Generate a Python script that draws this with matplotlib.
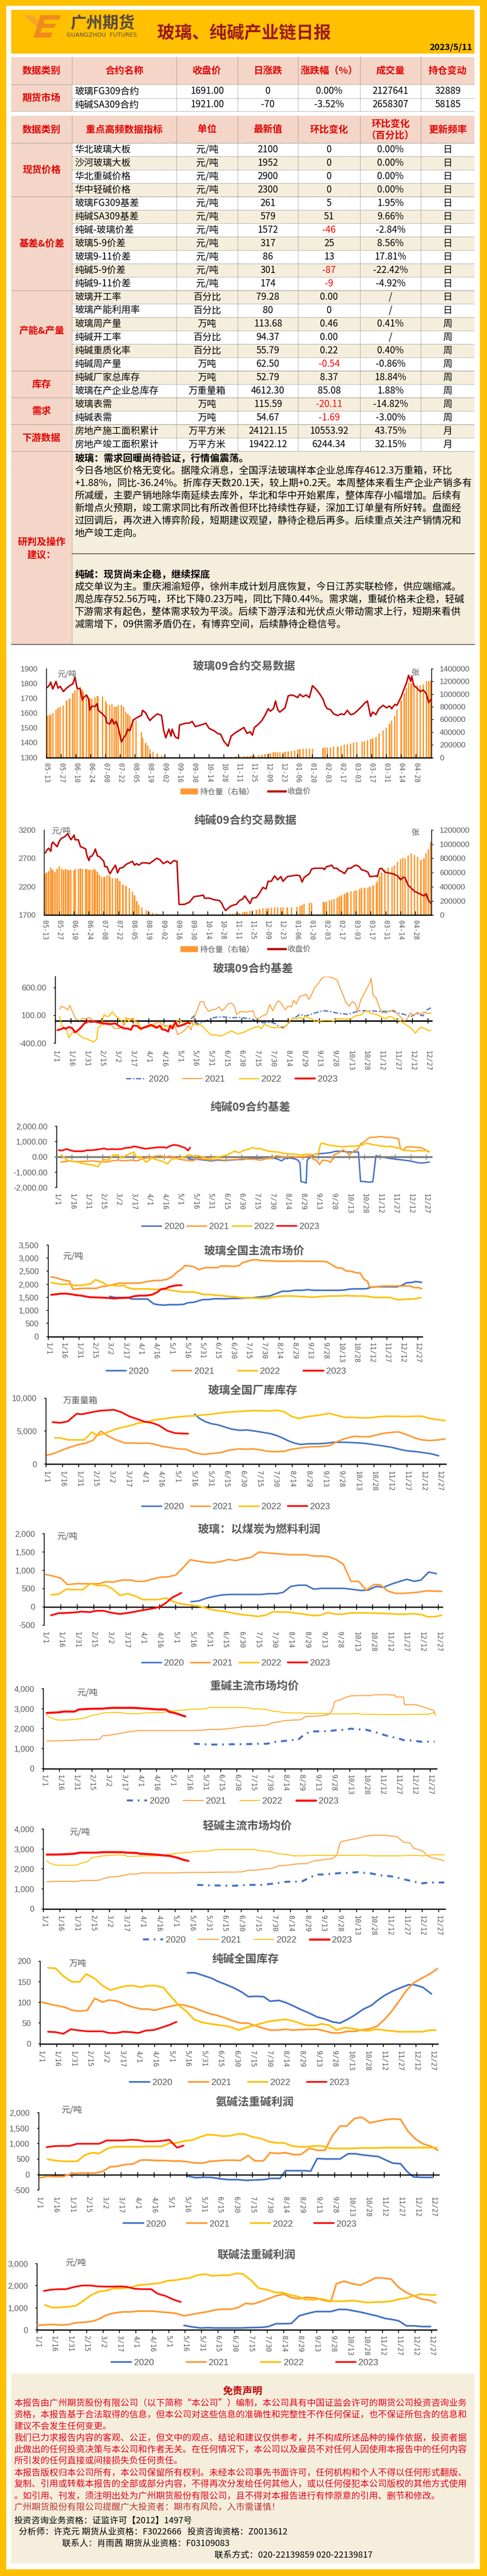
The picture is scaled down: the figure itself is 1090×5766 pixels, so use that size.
import numpy as np
import pandas as pd
import matplotlib
matplotlib.use('Agg')
import matplotlib.pyplot as plt
from matplotlib.patches import Rectangle, Polygon, Patch
from matplotlib.lines import Line2D
import matplotlib.transforms as mtrans

plt.rcParams['font.family'] = ['Noto Sans CJK SC', 'DejaVu Sans']
plt.rcParams['axes.unicode_minus'] = False

nan = np.nan
W, H = 1090, 5766
GRAY = '#595959'
NUM = ['Liberation Sans', 'DejaVu Sans']
MONO = ['DejaVu Sans Mono', 'DejaVu Sans']
PINK = '#F4D6C8'
BEIGE = '#F6EEDC'
RED = '#E00000'
YELLOW = '#FFC000'
BAR = '#FF9933'
DARKRED = '#C00000'
YEARS = ['2020', '2021', '2022', '2023']
YEAR_COLORS = ['#4472C4', '#FF9933', '#FFC000', '#FF0000']

# ---------------- table data ----------------
fut_names = ['玻璃FG309合约', '纯碱SA309合约']
fut_close = [1691.00, 1921.00]
fut_chg = [0, -70]
fut_pct = [0.00, -3.52]
fut_vol = [2127641, 2658307]
fut_oi = [32889, 58185]

ind_names = ['华北玻璃大板', '沙河玻璃大板', '华北重碱价格', '华中轻碱价格', '玻璃FG309基差', '纯碱SA309基差',
             '纯碱-玻璃价差', '玻璃5-9价差', '玻璃9-11价差', '纯碱5-9价差', '纯碱9-11价差', '玻璃开工率',
             '玻璃产能利用率', '玻璃周产量', '纯碱开工率', '纯碱重质化率', '纯碱周产量', '纯碱厂家总库存',
             '玻璃在产企业总库存', '玻璃表需', '纯碱表需', '房地产施工面积累计', '房地产竣工面积累计']
ind_units = ['元/吨'] * 11 + ['百分比', '百分比', '万吨', '百分比', '百分比', '万吨', '万吨', '万重量箱',
                              '万吨', '万吨', '万平方米', '万平方米']
ind_latest = ['2100', '1952', '2900', '2300', '261', '579', '1572', '317', '86', '301', '174', '79.28', '80',
              '113.68', '94.37', '55.79', '62.50', '52.79', '4612.30', '115.59', '54.67', '24121.15', '19422.12']
ind_chg = ['0', '0', '0', '0', '5', '51', '-46', '25', '13', '-87', '-9', '0.00', '0', '0.46', '0.00', '0.22',
           '-0.54', '8.37', '85.08', '-20.11', '-1.69', '10553.92', '6244.34']
ind_pct = ['0.00%', '0.00%', '0.00%', '0.00%', '1.95%', '9.66%', '-2.84%', '8.56%', '17.81%', '-22.42%', '-4.92%',
           '/', '/', '0.41%', '/', '0.40%', '-0.86%', '18.84%', '1.88%', '-14.82%', '-3.00%', '43.75%', '32.15%']
ind_freq = ['日'] * 13 + ['周'] * 8 + ['月'] * 2
groups = [('现货价格', 4), ('基差&价差', 7), ('产能&产量', 6), ('库存', 2), ('需求', 2), ('下游数据', 2)]

glass_text = ['玻璃：需求回暖尚待验证，行情偏震荡。',
              '今日各地区价格无变化。据隆众消息，全国浮法玻璃样本企业总库存4612.3万重箱，环比',
              '+1.88%，同比-36.24%。折库存天数20.1天，较上期+0.2天。本周整体来看生产企业产销多有',
              '所减缓，主要产销地除华南延续去库外，华北和华中开始累库，整体库存小幅增加。后续有',
              '新增点火预期，竣工需求同比有所改善但环比持续性存疑，深加工订单量有所好转。盘面经',
              '过回调后，再次进入博弈阶段，短期建议观望，静待企稳后再多。后续重点关注产销情况和',
              '地产竣工走向。']
soda_text = ['纯碱：现货尚未企稳，继续探底',
             '成交单议为主。重庆湘渝短停，徐州丰成计划月底恢复，今日江苏实联检修，供应端缩减。',
             '周总库存52.56万吨，环比下降0.23万吨，同比下降0.44%。需求端，重碱价格未企稳，轻碱',
             '下游需求有起色，整体需求较为平淡。后续下游浮法和光伏点火带动需求上行，短期来看供',
             '减需增下，09供需矛盾仍在，有博弈空间，后续静待企稳信号。']

# ---------------- chart data ----------------
# (day since 2022-05-13, close, open interest in 10k)
fg_rows = [(1,1775,66),(3,1792,67),(4,1810,68),(6,1763,70),(9,1815,75),(11,1769,78),(13,1781,80),(16,1746,82),(19,1769,90),(22,1786,93),
           (25,1798,101),(27,1844,106),(29,1769,110),(32,1763,112),(34,1688,107),(35,1705,104),(38,1723,99),(40,1694,94),(41,1619,93),(43,1648,93),
           (46,1644,95),(48,1665,97),(49,1619,97),(53,1595,96),(56,1572,89),(57,1537,86),(60,1526,83),(62,1561,84),(64,1526,80),(66,1544,80),
           (68,1503,83),(71,1404,83),(73,1433,80),(75,1451,72),(77,1492,69),(79,1480,66),(82,1550,61),(85,1567,58),(90,1585,40),(91,1619,31),
           (94,1602,23),(96,1572,19),(98,1550,13),(101,1572,9),(105,1595,6),(109,1584,3),(111,1485,1),(113,1433,0.5),(116,1492,0.5),(118,1445,0.3),
           (119,1492,0.3),(122,1439,0.3),(125,1428,0.3),(126,1520,0.3),(129,1526,0.3),(132,1532,0.3),(135,1532,0.3),(138,1544,0.3),(141,1509,nan),(144,1515,nan),
           (149,1526,nan),(151,1532,0.3),(154,1497,0.3),(159,1480,0.3),(162,1463,0.4),(165,1457,0.4),(168,1410,0.5),(172,1376,0.5),(175,1445,1),(179,1468,1.5),
           (183,1485,1.8),(187,1503,2),(190,1463,2),(193,1474,2.5),(195,1451,2.5),(197,1503,3),(201,1526,3.5),(204,1550,4),(207,1585,5),(210,1630,6),
           (212,1613,6.5),(215,1630,8),(217,1682,8),(219,1624,8),(221,1607,8),(224,1624,8),(226,1636,9),(229,1717,9.5),(232,1723,10),(235,1717,11),
           (238,1705,12),(240,1728,13),(243,1711,13.5),(246,1723,13.5),(249,1705,14),(252,1786,14),(256,1757,nan),(259,1728,nan),(262,1694,15),(264,1653,15.5),
           (266,1630,16),(269,1624,16),(272,1595,17),(276,1584,17.5),(279,1595,19),(282,1590,20),(285,1619,21),(288,1590,22),(291,1595,23.5),(294,1613,24),
           (299,1648,25),(301,1665,26),(304,1682,27),(307,1578,29),(309,1607,30),(312,1590,32),(315,1630,38),(319,1653,43),(322,1636,47),(325,1648,53),
           (327,1630,58),(330,1659,66),(332,1653,76),(336,1711,90),(339,1769,101),(341,1804,110),(343,1856,118),(345,1815,118),(346,1850,117),(348,1786,115),
           (351,1769,114),(354,1746,114),(357,1757,115),(360,1728,120),(362,1671,121),(364,1691,121)]

sa_rows = [(1,2799,58),(2,2839,60),(4,2880,62),(6,2826,67),(7,2961,64),(8,2988,63),(10,2948,61),(12,2907,65),(14,3002,69),(16,3056,66),
           (18,3070,64),(20,3097,65),(22,3138,64),(23,3097,63),(25,3029,64),(28,3111,63),(29,3029,65),(32,3029,65),(34,2907,66),(36,2894,65),
           (39,2866,65),(40,2758,65),(42,2663,64),(43,2731,64),(45,2745,64),(47,2812,65),(48,2866,63),(50,2745,61),(52,2731,57),(54,2690,54),
           (56,2649,54),(57,2555,54),(59,2555,56),(61,2460,57),(62,2433,53),(64,2501,52),(67,2582,52),(69,2446,52),(71,2527,48),(74,2541,43),
           (77,2595,41),(80,2622,38),(83,2649,33),(85,2582,28),(87,2609,20),(89,2582,15),(92,2622,11),(96,2622,7),(99,2609,5),(102,2649,3.5),
           (106,2704,2),(109,2677,1.5),(112,2609,1),(116,2649,0.5),(119,2609,0.4),(122,2663,0.3),(125,2649,0.3),(127,1890,0.3),(129,1890,0.3),(132,1890,0.3),
           (137,1931,0.3),(141,2026,nan),(146,2040,nan),(150,2053,0.5),(151,1999,0.5),(156,1999,0.6),(160,1972,0.7),(165,1958,1),(167,1917,1.2),(169,1836,1.5),
           (171,1782,1.5),(175,1850,2),(178,1877,2.3),(181,1890,2.6),(184,1958,3),(187,1985,4),(189,2040,4.5),(191,1985,5),(194,1904,6),(196,1999,6.5),
           (200,2013,7.5),(203,2094,8.5),(206,2189,9.8),(209,2162,10),(211,2297,10),(214,2297,10.5),(217,2392,10.8),(220,2324,10.8),(223,2379,10.8),(225,2297,10.8),
           (229,2379,10.8),(233,2392,11.3),(238,2406,11.9),(241,2392,13),(243,2284,14),(245,2365,16),(250,2433,17.4),(252,2514,17.4),(255,2527,nan),(260,2527,nan),
           (263,2527,18.4),(264,2501,18.5),(266,2555,19.5),(269,2568,21),(271,2582,22),(273,2527,23),(276,2527,24.5),(278,2487,26),(280,2473,28),(283,2433,30),
           (285,2487,31.5),(286,2527,32),(289,2527,33.5),(292,2568,34.3),(294,2582,35),(297,2555,37),(299,2501,38),(302,2487,38.6),(305,2460,39),(307,2379,40),
           (310,2384,42),(313,2392,45),(314,2379,48),(316,2514,55),(318,2527,60),(321,2460,64),(324,2446,67),(328,2433,68),(330,2419,70),(333,2392,75),
           (336,2324,79),(338,2365,81),(340,2365,80),(343,2229,84),(346,2175,87),(349,2121,85),(352,2094,82),(355,2067,78),(358,2040,80),(360,2080,88),
           (362,1972,93),(364,1917,103)]

# seasonal series: (day of year, value)
gb20 = [(131,38),(134,92),(137,-57),(141,-30),(145,-3),(151,51),(157,73),(163,73),(170,57),(178,65),(184,51),(190,38),(194,-3),(200,-30),
        (204,-30),(208,-24),(212,-43),(217,-111),(221,-111),(224,-70),(229,51),(233,78),(236,119),(242,92),(247,119),(251,146),(259,186),
        (265,173),(271,146),(277,132),(283,119),(289,159),(295,186),(301,186),(307,181),(313,173),(319,173),(325,186),(331,146),(337,119),
        (343,78),(349,132),(355,92),(359,200),(363,240)]
gb21 = [(4,213),(6,268),(10,227),(12,200),(14,281),(16,186),(20,24),(24,11),(26,51),(29,38),(33,65),(37,-16),(41,-30),(46,-70),(52,-16),
        (56,-124),(61,-138),(65,-111),(68,51),(72,38),(76,11),(79,-16),(83,-138),(86,-97),(91,-70),(95,-57),(100,-16),(104,-70),(109,-97),
        (113,-84),(116,-111),(118,-246),(121,-219),(125,-165),(129,-84),(131,-165),(134,51),(137,200),(140,349),(143,349),(145,254),(148,173),
        (151,200),(155,213),(158,254),(161,186),(164,240),(167,308),(170,322),(173,268),(175,119),(179,173),(184,159),(188,173),(191,186),
        (193,65),(196,38),(200,92),(204,119),(207,295),(210,186),(214,335),(216,362),(219,295),(222,200),(225,268),(228,254),(230,375),
        (233,308),(236,443),(239,457),(242,484),(245,389),(248,497),(251,619),(254,673),(257,760),(260,800),(265,795),(269,770),(272,740),
        (277,511),(281,322),(284,268),(287,349),(290,308),(292,159),(295,375),(298,484),(301,592),(304,700),(305,773),(307,457),(310,416),
        (312,295),(315,159),(319,146),(323,173),(327,200),(330,132),(334,65),(337,-3),(340,38),(343,146),(346,105),(350,159),(353,119),
        (356,159),(360,132),(363,146)]
gb22 = [(4,84),(6,-84),(8,-111),(11,-165),(13,-300),(16,-219),(19,-178),(22,-232),(26,-300),(31,-327),(34,-354),(37,-376),(40,-327),
        (41,-124),(44,-84),(47,119),(50,78),(52,92),(55,165),(58,92),(61,51),(64,-3),(67,-70),(68,65),(71,-8),(74,51),(77,-16),(80,-30),
        (83,-165),(86,-111),(89,-111),(92,-97),(95,-70),(98,-97),(101,-84),(104,-111),(107,-97),(110,-84),(115,-70),(118,19),(122,-16),
        (126,-43),(130,-16),(133,-57),(136,-70),(140,-70),(143,-111),(147,-192),(151,-259),(154,-246),(157,-259),(160,-273),(163,-246),
        (166,-219),(170,-178),(173,-205),(176,-232),(179,-219),(182,-205),(185,-178),(188,-151),(191,-124),(196,-97),(199,-138),(202,-57),
        (205,-84),(208,-111),(212,-124),(217,-111),(220,-138),(223,-84),(227,11),(230,51),(233,38),(236,65),(239,38),(242,92),(245,51),
        (248,38),(251,-16),(254,-3),(259,11),(263,11),(266,11),(269,-3),(272,46),(277,38),(281,32),(286,51),(290,92),(295,105),(298,159),
        (301,186),(304,146),(307,132),(310,119),(313,92),(316,65),(319,38),(322,78),(325,78),(328,24),(332,11),(336,-30),(340,-84),
        (344,-138),(348,-219),(350,-165),(353,-111),(355,-124),(358,-151),(361,-178),(363,-165)]
gb23 = [(2,-165),(5,-151),(8,-124),(10,-138),(13,-111),(16,-124),(19,-205),(22,-165),(25,-111),(28,-43),(31,-8),(35,-16),(38,-8),(43,-30),
        (47,-43),(52,-57),(58,-43),(62,-97),(66,-132),(70,-138),(73,-159),(75,-84),(79,-89),(82,-138),(85,-124),(89,-97),(92,-70),(95,-97),
        (98,-124),(101,-84),(103,-151),(106,-159),(109,-192),(111,-84),(113,-138),(116,-16),(118,-97),(121,-84),(125,-57),(128,-30),(130,-43)]

sb20 = [(128,-116),(132,-164),(138,-164),(144,-213),(150,-261),(157,-213),(163,-241),(169,-213),(175,-184),(181,-164),(187,-116),(193,-68),
        (199,-87),(205,-19),(211,-68),(216,-164),(219,-261),(222,-116),(226,-68),(231,-116),(235,-213),(237,-406),(238,-1613),(241,-1662),
        (243,-1710),(244,-213),(247,-19),(250,126),(253,203),(259,222),(266,271),(272,367),(278,367),(284,319),(290,319),(294,319),
        (296,-1613),(300,-1613),(305,-1662),(308,-1613),(311,77),(314,29),(320,-48),(326,-116),(332,-164),(338,-213),(344,-261),(350,-357),
        (355,-406),(359,-377),(363,-338)]
sb21 = [(4,-338),(8,-309),(13,-261),(17,-309),(23,-309),(29,-280),(35,-261),(41,-309),(48,-338),(54,-261),(60,-213),(66,-261),(72,-213),
        (78,-261),(84,-116),(90,-48),(96,48),(101,77),(105,-19),(110,48),(114,-19),(120,-164),(126,-213),(132,-261),(138,-116),(144,-164),
        (150,-213),(157,-164),(163,-213),(169,-184),(175,-164),(181,-116),(187,-145),(193,-164),(199,-213),(205,-116),(210,-68),(214,77),
        (219,29),(223,-19),(229,29),(235,-19),(241,10),(247,77),(250,-164),(253,-213),(256,-502),(259,-213),(264,-261),(267,-357),(270,126),
        (275,271),(279,464),(282,319),(285,126),(290,415),(293,464),(296,850),(300,995),(303,1188),(306,1285),(311,1285),(316,1333),
        (320,1285),(325,1285),(329,1236),(333,1188),(335,512),(338,464),(341,657),(346,657),(350,628),(355,609),(359,464),(362,319)]
sb22 = [(4,126),(7,-19),(10,-213),(13,-261),(17,-309),(22,-357),(25,-435),(29,-473),(35,-531),(40,-647),(43,-357),(46,-164),(49,-213),
        (52,-116),(55,126),(58,126),(61,29),(64,-68),(67,77),(72,222),(75,319),(78,-19),(81,29),(84,-116),(87,-357),(90,-213),(93,-68),
        (96,-164),(99,-213),(102,-261),(105,-357),(108,-454),(111,-213),(114,-116),(117,-116),(120,-48),(125,29),(129,145),(134,29),(138,77),
        (143,-19),(147,-116),(152,-68),(157,-19),(161,48),(166,126),(170,271),(173,367),(178,271),(182,415),(187,512),(191,609),(194,531),
        (197,560),(202,464),(207,367),(211,338),(216,319),(220,242),(226,203),(232,174),(238,126),(244,174),(250,145),(255,222),(257,850),
        (259,898),(263,802),(267,753),(272,705),(278,657),(282,686),(287,705),(291,705),(296,753),(300,850),(303,879),(308,802),(312,753),
        (317,705),(322,657),(325,705),(329,628),(334,560),(338,415),(343,415),(347,367),(352,415),(356,396),(361,415),(363,338)]
sb23 = [(2,435),(5,415),(10,512),(13,435),(17,367),(22,367),(26,367),(29,435),(34,435),(38,464),(43,512),(46,560),(49,493),(54,512),
        (58,493),(63,512),(67,589),(72,609),(75,686),(78,657),(82,589),(87,531),(90,560),(94,589),(99,628),(104,628),(107,589),(110,705),
        (114,782),(118,753),(122,657),(125,589),(128,415),(130,609)]

gp20 = [(60,1537),(65,1494),(71,1494),(77,1494),(82,1433),(86,1433),(92,1433),(97,1433),(100,1335),(103,1250),(107,1220),(113,1201),
        (119,1220),(126,1220),(132,1232),(136,1293),(142,1311),(147,1372),(151,1415),(156,1415),(162,1445),(168,1445),(174,1445),(180,1457),
        (186,1457),(192,1476),(198,1476),(204,1506),(210,1531),(216,1555),(221,1628),(225,1689),(228,1732),(234,1732),(240,1768),(247,1768),
        (253,1793),(259,1768),(265,1768),(271,1768),(277,1768),(283,1768),(289,1781),(293,1811),(298,1823),(304,1823),(310,1829),(315,1891),
        (321,1903),(328,1903),(334,1903),(340,1903),(345,1963),(349,2055),(354,2067),(358,2104),(364,2073)]
gp21 = [(3,2281),(8,2250),(12,2189),(17,2146),(21,2116),(24,1811),(29,1829),(35,1842),(41,1842),(47,1842),(51,1903),(57,1933),(64,1994),
        (70,2043),(76,2043),(82,2043),(88,2043),(92,2067),(98,2116),(104,2146),(110,2146),(116,2189),(121,2299),(126,2482),(130,2573),
        (133,2714),(138,2695),(142,2665),(147,2555),(150,2604),(154,2634),(160,2634),(165,2634),(168,2695),(174,2695),(180,2683),(186,2714),
        (189,2817),(194,2878),(198,2921),(203,2939),(207,2909),(213,2897),(219,2891),(225,2878),(231,2878),(237,2878),(244,2891),(250,2878),
        (256,2878),(262,2878),(268,2878),(272,2848),(277,2726),(281,2634),(286,2616),(290,2512),(295,2494),(299,2451),(304,2421),(308,2177),
        (311,2116),(313,1903),(316,1884),(322,1915),(328,1933),(334,1933),(340,1933),(346,1933),(352,1933),(357,1872),(361,1872),(364,1823)]
gp22 = [(3,2067),(8,2024),(14,1994),(20,2006),(26,1951),(32,1963),(38,1994),(42,2024),(46,2177),(50,2116),(54,2055),(57,1963),(62,1963),
        (68,1933),(74,1963),(77,1872),(82,1823),(89,1823),(98,1823),(104,1799),(110,1811),(116,1793),(123,1750),(129,1707),(135,1707),
        (141,1707),(147,1659),(151,1610),(157,1610),(163,1579),(169,1567),(175,1537),(181,1525),(188,1488),(194,1488),(200,1476),(206,1464),
        (213,1464),(219,1506),(225,1537),(231,1549),(237,1549),(244,1537),(250,1525),(256,1506),(262,1518),(268,1537),(274,1549),(280,1549),
        (286,1555),(290,1567),(295,1555),(301,1549),(307,1549),(312,1537),(316,1506),(321,1494),(327,1494),(333,1494),(336,1457),(340,1415),
        (346,1415),(352,1433),(358,1445),(361,1476),(363,1488)]
gp23 = [(3,1598),(8,1616),(12,1640),(18,1640),(23,1616),(27,1585),(32,1567),(36,1537),(41,1506),(47,1494),(53,1488),(59,1476),(64,1457),
        (68,1470),(74,1476),(79,1488),(83,1537),(89,1567),(95,1567),(101,1598),(106,1689),(110,1811),(115,1842),(118,1903),(123,1945),
        (127,1963),(130,1957)]

gi20 = [(136,7559),(140,6962),(145,6483),(151,6124),(157,5957),(163,5646),(170,5287),(177,5120),(184,5167),(191,5000),(198,4809),
        (205,4617),(211,4330),(216,3971),(222,3493),(228,3134),(233,2967),(239,3062),(248,3086),(255,3134),(263,3302),(272,3302),(280,3254),
        (288,3182),(295,3062),(302,2895),(309,2728),(316,2536),(323,2249),(330,2010),(339,1867),(346,1699),(353,1532),(359,1250)]
gi21 = [(1,1340),(8,1651),(15,2130),(23,2608),(30,2967),(36,3134),(43,3613),(50,5000),(56,4330),(63,3732),(72,3182),(80,3182),(87,3134),
        (93,3182),(100,2967),(107,2656),(114,2488),(121,2297),(128,2249),(136,1699),(143,1460),(151,1579),(160,1747),(168,2130),(177,2297),
        (182,2249),(189,2297),(197,2130),(202,1938),(209,1867),(218,1938),(225,2249),(234,2464),(242,2608),(251,2656),(259,2775),(266,3373),
        (273,3852),(282,4211),(289,4139),(296,4139),(303,4450),(310,4689),(319,4856),(323,4856),(330,4450),(337,3971),(344,3660),(351,3565),
        (359,3660),(365,3804)]
gi22 = [(8,3971),(13,3971),(20,3660),(29,3660),(35,3660),(42,4856),(47,4330),(53,4617),(60,5048),(64,5335),(72,5646),(77,5813),(84,6196),
        (91,6363),(100,6722),(109,6890),(117,7081),(127,7248),(136,7320),(143,7440),(154,7607),(161,7799),(171,7918),(182,8038),(191,8110),
        (199,8086),(204,8038),(211,8158),(218,7918),(225,7200),(231,6914),(239,7200),(249,7392),(259,7679),(266,7392),(273,7081),(280,7081),
        (288,7009),(296,7009),(303,7153),(310,7248),(319,7248),(329,7200),(336,7248),(344,7248),(350,6962),(356,6770),(365,6603)]
gi23 = [(6,6363),(13,6244),(20,6483),(28,7631),(33,7559),(40,7799),(49,8086),(56,8158),(62,8229),(69,7870),(76,7248),(83,6842),
        (90,6435),(97,6244),(103,5885),(111,5048),(118,4689),(126,4617),(130,4612)]

gc20 = [(134,144),(141,166),(148,240),(155,288),(162,327),(169,341),(176,341),(184,341),(191,341),(198,341),(205,362),(212,362),(218,397),
        (225,559),(232,594),(239,594),(246,485),(253,507),(260,507),(267,507),(274,507),(281,480),(289,450),(296,463),(303,559),(310,537),
        (317,624),(324,690),(331,755),(338,699),(344,734),(351,952),(358,908)]
gc21 = [(1,887),(8,843),(15,786),(21,611),(29,633),(36,633),(43,633),(50,633),(56,690),(63,677),(71,734),(79,734),(84,699),(91,699),
        (98,755),(106,812),(113,821),(120,873),(127,1083),(133,1288),(141,1245),(148,1214),(154,1205),(161,1236),(168,1293),(175,1266),
        (182,1314),(189,1354),(196,1498),(203,1476),(211,1454),(218,1441),(225,1424),(232,1424),(239,1424),(246,1389),(253,1389),(260,1367),
        (266,1301),(273,1170),(280,699),(287,699),(294,459),(301,611),(307,603),(314,428),(321,371),(328,371),(335,384),(342,406),(350,441),
        (357,428),(363,428)]
gc22 = [(6,332),(13,349),(20,485),(28,472),(35,472),(42,638),(49,581),(56,590),(62,493),(69,319),(76,362),(83,297),(90,201),(97,201),
        (104,201),(111,245),(118,144),(125,79),(132,57),(140,26),(147,-22),(154,-83),(161,-109),(168,-140),(175,-183),(182,-214),(189,-236),
        (195,-258),(202,-227),(209,-127),(216,-140),(223,-140),(230,-170),(237,-197),(245,-236),(252,-227),(259,-153),(266,-197),(273,-197),
        (280,-162),(287,-162),(294,-162),(301,-170),(308,-175),(315,-183),(323,-197),(330,-197),(337,-183),(344,-205),(350,-271),(357,-262),
        (363,-227)]
gc23 = [(6,-227),(13,-170),(20,-162),(28,-148),(34,-127),(42,-140),(47,-105),(54,-105),(62,-162),(69,-192),(76,-162),(83,-127),(90,-87),
        (97,-52),(104,-9),(110,87),(117,262),(121,319),(125,384)]

hs20 = [(140,1240),(147,1224),(156,1200),(165,1200),(174,1216),(182,1216),(191,1224),(200,1240),(208,1240),(214,1320),(223,1376),
        (231,1424),(237,1440),(243,1720),(249,1856),(257,1864),(266,1880),(275,1936),(281,1936),(286,2000),(292,1960),(299,1960),(308,1840),
        (315,1720),(321,1616),(330,1520),(335,1424),(344,1400),(351,1344),(359,1344),(364,1344)]
hs21 = [(3,1376),(12,1392),(20,1400),(29,1416),(36,1440),(45,1440),(52,1456),(55,1640),(61,1664),(67,1720),(72,1760),(77,1824),(82,1856),
        (88,1904),(95,1904),(104,1904),(113,1904),(121,1904),(130,1904),(139,1904),(147,1920),(156,1960),(165,1960),(172,2000),(179,2040),
        (187,2104),(194,2120),(201,2144),(208,2176),(213,2296),(220,2344),(224,2400),(231,2424),(239,2440),(244,2600),(252,2624),(260,2656),
        (266,2720),(269,2960),(271,3360),(276,3440),(282,3584),(286,3640),(295,3656),(304,3656),(307,3696),(318,3704),(327,3680),(328,3584),
        (335,3584),(336,3200),(341,3200),(347,3200),(350,3136),(354,3080),(359,2976),(363,2920),(365,2680)]
hs22 = [(3,2680),(6,2560),(12,2440),(17,2424),(23,2440),(30,2464),(35,2496),(40,2560),(46,2680),(52,2720),(55,2784),(61,2800),(67,2816),
        (72,2800),(77,2760),(84,2744),(90,2760),(95,2784),(104,2800),(110,2800),(116,2880),(121,2904),(127,2920),(133,2944),(139,2976),
        (146,2984),(152,3000),(153,3056),(162,3056),(174,3056),(185,3056),(191,3040),(195,3000),(202,2984),(208,2960),(213,2880),(218,2856),
        (224,2800),(231,2784),(240,2784),(246,2760),(254,2760),(263,2752),(269,2736),(278,2736),(286,2736),(292,2760),(296,2720),(304,2720),
        (315,2704),(327,2704),(335,2704),(347,2720),(359,2720),(363,2800),(365,2720)]
hs23 = [(3,2784),(9,2800),(14,2816),(19,2856),(25,2856),(29,2856),(33,2960),(38,2976),(43,2992),(49,3000),(55,3000),(59,3024),(64,3040),
        (71,3040),(78,3040),(85,3040),(91,3016),(97,3000),(103,2976),(108,2960),(114,2960),(117,2840),(121,2800),(126,2720),(130,2640),
        (132,2616)]

ls20 = [(140,1200),(148,1184),(156,1176),(164,1160),(175,1160),(185,1200),(192,1200),(199,1200),(209,1264),(222,1360),(229,1360),
        (235,1360),(242,1560),(249,1720),(256,1720),(264,1760),(271,1800),(277,1800),(286,1840),(293,1800),(298,1776),(307,1680),(315,1640),
        (320,1600),(328,1480),(335,1400),(341,1320),(345,1280),(351,1320),(359,1320),(365,1320)]
ls21 = [(3,1360),(11,1376),(23,1376),(31,1376),(35,1424),(45,1424),(51,1440),(55,1520),(59,1584),(66,1616),(74,1680),(78,1744),(85,1744),
        (89,1800),(99,1800),(110,1800),(122,1800),(129,1824),(139,1824),(150,1824),(161,1840),(173,1840),(181,1856),(187,1936),(195,1944),
        (202,2000),(209,2040),(214,2160),(221,2176),(226,2224),(232,2256),(239,2264),(246,2400),(252,2440),(257,2480),(263,2520),(267,2680),
        (270,3280),(271,3360),(277,3440),(283,3504),(288,3560),(293,3640),(300,3680),(307,3696),(312,3680),(318,3640),(322,3616),(325,3480),
        (328,3344),(334,3296),(337,3040),(342,2960),(346,2880),(349,2680),(354,2560),(361,2480),(365,2400)]
ls22 = [(3,2400),(6,2280),(11,2200),(17,2184),(25,2184),(30,2200),(34,2280),(40,2360),(44,2560),(48,2600),(54,2656),(61,2680),(68,2704),
        (75,2680),(76,2624),(85,2640),(93,2656),(102,2656),(109,2680),(116,2736),(124,2800),(133,2840),(141,2880),(150,2896),(156,2960),
        (164,2976),(175,2976),(187,2976),(192,2976),(197,2920),(204,2880),(209,2840),(214,2760),(222,2720),(228,2656),(235,2656),(246,2680),
        (257,2680),(269,2680),(280,2680),(288,2680),(294,2704),(298,2656),(311,2656),(322,2656),(331,2672),(339,2680),(345,2656),(354,2704),
        (365,2704)]
ls23 = [(3,2720),(11,2720),(20,2736),(28,2760),(33,2816),(41,2816),(48,2816),(54,2840),(62,2840),(71,2840),(76,2816),(85,2800),(88,2760),
        (95,2744),(102,2720),(109,2680),(115,2656),(119,2600),(123,2544),(127,2464),(132,2400)]

si20 = [(135,172),(142,172),(149,166),(157,159),(164,150),(171,143),(178,135),(185,125),(191,114),(198,115),(205,114),(211,103),(219,105),
        (225,100),(232,92),(239,83),(247,74),(254,65),(261,60),(268,53),(275,50),(282,59),(289,70),(296,83),(304,93),(309,104),(316,117),
        (323,127),(331,136),(338,143),(343,143),(351,137),(359,121)]
si21 = [(1,101),(7,97),(14,93),(23,88),(29,81),(36,79),(43,81),(50,110),(57,101),(63,106),(71,103),(78,95),(86,88),(93,84),(99,84),
        (105,81),(113,87),(120,91),(128,95),(133,93),(141,87),(148,80),(155,73),(162,69),(170,62),(177,55),(184,50),(190,50),(197,44),
        (204,38),(211,33),(218,33),(225,35),(232,33),(239,34),(247,35),(254,35),(261,31),(268,26),(275,26),(282,30),(289,30),(296,34),
        (302,36),(309,42),(316,59),(322,77),(329,102),(336,129),(343,148),(351,160),(358,170),(365,183)]
si22 = [(7,184),(14,183),(21,164),(29,150),(36,150),(42,169),(50,158),(57,141),(64,130),(71,135),(78,140),(85,141),(92,137),(99,141),
        (105,141),(113,136),(120,114),(128,91),(134,79),(141,59),(148,52),(156,48),(165,45),(174,41),(182,33),(189,39),(197,45),(204,50),
        (210,54),(218,57),(225,59),(232,55),(239,49),(245,44),(252,44),(258,48),(265,45),(272,33),(279,39),(286,37),(294,33),(301,31),
        (308,35),(315,33),(322,31),(329,29),(336,29),(343,29),(351,29),(358,33),(363,33)]
si23 = [(7,29),(14,28),(21,24),(28,35),(36,32),(43,30),(50,30),(57,30),(63,26),(70,26),(76,29),(83,28),(90,26),(97,32),(104,33),
        (111,39),(118,45),(125,53)]

ap20 = [(136,-49),(143,-97),(151,-83),(157,-87),(166,-136),(173,-160),(181,-160),(190,-184),(197,-170),(205,-160),(212,-121),(220,-121),
        (225,127),(229,127),(237,127),(244,127),(248,111),(254,521),(261,506),(268,506),(275,506),(282,673),(289,673),(296,633),(303,608),
        (310,582),(316,481),(323,370),(330,354),(336,101),(342,-76),(352,-87),(359,-87)]
ap21 = [(1,-101),(8,-51),(15,-66),(22,-61),(29,25),(36,51),(43,51),(51,51),(58,101),(65,253),(71,268),(79,329),(86,344),(93,471),(100,471),
        (107,456),(114,456),(122,440),(129,440),(136,415),(141,380),(149,370),(156,430),(163,446),(170,466),(177,466),(184,456),(191,618),
        (197,446),(205,446),(211,709),(218,683),(225,709),(232,648),(239,648),(247,851),(254,785),(261,785),(268,1266),(275,1570),(281,1570),
        (288,1813),(295,1848),(302,1671),(309,1721),(316,1772),(323,1797),(330,1782),(337,1392),(344,1139),(351,987),(358,911),(364,785)]
ap22 = [(8,496),(15,456),(22,430),(28,430),(35,430),(42,633),(49,709),(55,683),(63,851),(70,901),(77,901),(84,901),(91,901),(97,911),
        (105,911),(112,911),(119,1013),(126,1023),(133,1089),(140,1114),(147,1215),(154,1291),(161,1276),(168,1240),(175,1256),(182,1316),
        (188,1306),(195,1215),(203,1164),(210,1063),(217,1023),(224,1023),(231,921),(238,901),(245,901),(252,927),(259,921),(266,846),
        (273,846),(281,846),(288,851),(295,861),(302,861),(309,861),(316,871),(323,871),(330,871),(337,871),(344,871),(352,871),(359,871),
        (363,871)]
ap23 = [(7,886),(14,921),(21,927),(28,927),(35,997),(42,997),(49,997),(55,997),(62,1104),(70,1104),(77,1104),(84,1124),(91,1114),
        (97,1073),(105,1073),(112,1089),(119,1124),(126,871),(132,937)]

jp20 = [(134,201),(141,136),(149,84),(156,97),(163,84),(170,84),(177,84),(185,84),(192,97),(199,104),(206,116),(211,149),(218,278),
        (225,278),(232,291),(239,634),(246,731),(254,828),(261,828),(268,828),(275,925),(282,925),(289,860),(296,796),(303,712),(310,634),
        (317,524),(325,459),(330,408),(337,181),(344,181),(351,149),(359,149)]
jp21 = [(0,201),(7,226),(14,246),(22,214),(29,246),(36,330),(43,343),(51,395),(56,485),(63,666),(70,763),(78,815),(85,815),(92,848),
        (99,848),(106,848),(113,809),(120,783),(127,744),(134,634),(141,699),(148,763),(156,828),(163,912),(170,938),(177,938),(183,1003),
        (190,1197),(197,1171),(204,1281),(211,1410),(218,1540),(225,1624),(232,1456),(239,1410),(246,1475),(254,1443),(261,1346),(268,1281),
        (273,2090),(280,2206),(288,2090),(295,2025),(302,2187),(309,2361),(316,2349),(323,2303),(330,1928),(337,1689),(344,1540),(351,1391),
        (358,1346),(364,1216)]
jp22 = [(7,1132),(14,1003),(21,1022),(28,1042),(35,1087),(42,1313),(49,1572),(56,1734),(63,1779),(70,1883),(78,1883),(85,1928),(92,2025),
        (99,2057),(106,2090),(112,2122),(119,2232),(126,2252),(133,2316),(139,2349),(146,2478),(153,2530),(160,2446),(167,2478),(175,2478),
        (182,2562),(188,2530),(195,2252),(202,1896),(210,1818),(217,1702),(224,1689),(231,1585),(238,1508),(245,1378),(252,1365),(259,1410),
        (266,1326),(273,1300),(280,1300),(288,1326),(295,1281),(302,1236),(309,1262),(316,1262),(323,1300),(330,1391),(337,1443),(344,1540),
        (350,1624),(357,1585),(364,1585)]
jp23 = [(6,1766),(12,1818),(19,1844),(26,1844),(34,1947),(41,2012),(48,2012),(55,1973),(62,1960),(69,1960),(76,1973),(82,1947),(89,1863),
        (97,1844),(104,1844),(110,1637),(117,1540),(124,1378),(131,1262)]

disclaimer = ['本报告由广州期货股份有限公司（以下简称“本公司”）编制，本公司具有中国证监会许可的期货公司投资咨询业务',
              '资格，本报告基于合法取得的信息，但本公司对这些信息的准确性和完整性不作任何保证，也不保证所包含的信息和',
              '建议不会发生任何变更。',
              '我们已力求报告内容的客观、公正，但文中的观点、结论和建议仅供参考，并不构成所述品种的操作依据，投资者据',
              '此做出的任何投资决策与本公司和作者无关。在任何情况下，本公司以及雇员不对任何人因使用本报告中的任何内容',
              '所引发的任何直接或间接损失负任何责任。',
              '本报告版权归本公司所有，本公司保留所有权利。未经本公司事先书面许可，任何机构和个人不得以任何形式翻版、',
              '复制、引用或转载本报告的全部或部分内容，不得再次分发给任何其他人，或以任何侵犯本公司版权的其他方式使用',
              '。如引用、刊发，须注明出处为广州期货股份有限公司，且不得对本报告进行有悖原意的引用、删节和修改。']
reminder = '广州期货股份有限公司提醒广大投资者：期市有风险，入市需谨慎！'
contacts = ['投资咨询业务资格：证监许可【2012】1497号',
            '分析师：许克元 期货从业资格：F3022666   投资咨询资格：Z0013612',
            '联系人：肖雨茜 期货从业资格：F03109083',
            '联系方式：020-22139859 020-22139817']

# ---------------- helpers ----------------
fig = plt.figure(figsize=(W / 100, H / 100), dpi=100)
fig.patch.set_facecolor(YELLOW)


def box(x0, y0, x1, y1, color, z=-5):
    fig.add_artist(Rectangle((x0 / W, 1 - y1 / H), (x1 - x0) / W, (y1 - y0) / H, transform=fig.transFigure,
                             facecolor=color, edgecolor='none', zorder=z))


def seg(x0, y0, x1, y1, dotted=True, lw=0.8, color='#404040'):
    ls = (0, (1, 1.6)) if dotted else '-'
    fig.add_artist(Line2D([x0 / W, x1 / W], [1 - y0 / H, 1 - y1 / H], transform=fig.transFigure,
                          color=color, lw=lw, ls=ls, zorder=-1))


def put(x, y, s, **kw):
    kw.setdefault('ha', 'center')
    kw.setdefault('va', 'center')
    return fig.text(x / W, 1 - y / H, s, **kw)


def xlabels(ax, ticks, labels, offset=14, size=11):
    tr = mtrans.offset_copy(mtrans.blended_transform_factory(ax.transData, ax.transAxes),
                            fig=fig, y=-offset, units='dots')
    for t, lab in zip(ticks, labels):
        ax.text(t, 0, lab, transform=tr, rotation=-90, ha='center', va='top', fontsize=size,
                family=MONO, color=GRAY)


# ---------------- frame & header ----------------
box(14, 12.5, 1074, 5751, 'white', z=-10)
box(25, 22, 1062, 120, YELLOW)
fig.add_artist(Polygon([(55 / W, 1 - 34 / H), (73 / W, 1 - 34 / H), (97 / W, 1 - 58 / H), (90 / W, 1 - 68 / H)],
                       closed=True, transform=fig.transFigure, facecolor='#F7A52C', edgecolor='none'))
for pts in ([(91, 34), (137, 34), (132, 44), (87, 44)], [(86, 53), (126, 53), (121, 62), (82, 62)],
            [(79, 73), (118, 73), (113, 84), (75, 84)], [(91, 34), (103, 34), (87, 84), (75, 84)]):
    fig.add_artist(Polygon([(x / W, 1 - y / H) for x, y in pts], closed=True, transform=fig.transFigure,
                           facecolor='#F08A1C', edgecolor='none'))
put(229, 52, '广州期货', fontsize=26, weight='bold', color='#5A4A3C')
put(228, 78, 'GUANGZHOU  FUTURES', fontsize=9.5, color='#5A4A3C', family=['DejaVu Sans'])
put(546, 75, '玻璃、纯碱产业链日报', fontsize=28, weight='bold', color='#9C1A1A')
put(1057, 107, '2023/5/11', ha='right', fontsize=14, weight='bold', color='black')

# ---------------- table 1 ----------------
cols = [25, 161, 395, 532, 667, 806, 942, 1062]
mids = [(a + b) / 2 for a, b in zip(cols[:-1], cols[1:])]
box(25, 128, 1062, 189, PINK)
box(25, 189, 161, 249, PINK)
for c, t in zip(mids, ['数据类别', '合约名称', '收盘价', '日涨跌', '涨跌幅（%）', '成交量', '持仓变动']):
    put(c, 158.5, t, color=RED, fontsize=15.5, weight='bold')
put(mids[0], 219, '期货市场', color=RED, fontsize=15.5, weight='bold')
for i, yc in enumerate([204.5, 234.5]):
    put(167, yc, fut_names[i], ha='left', fontsize=15)
    put(mids[2], yc, f'{fut_close[i]:.2f}', fontsize=15)
    put(mids[3], yc, f'{fut_chg[i]}', fontsize=15)
    put(mids[4], yc, f'{fut_pct[i]:.2f}%', fontsize=15)
    put(mids[5], yc, f'{fut_vol[i]}', fontsize=15)
    put(mids[6], yc, f'{fut_oi[i]}', fontsize=15)
for x in cols[1:-1]:
    seg(x, 128, x, 249)
seg(25, 189, 1062, 189)
seg(161, 220, 1062, 220)
seg(25, 249, 1062, 249)

# ---------------- table 2 ----------------
box(25, 259, 1062, 320, PINK)
box(25, 320, 161, 1010, PINK)
heads = ['数据类别', '重点高频数据指标', '单位', '最新值', '环比变化', '环比变化\n（百分比）', '更新频率']
for c, t in zip(mids, heads):
    put(c, 290, t, color=RED, fontsize=15.5, weight='bold', linespacing=1.3)
for i in range(len(ind_names)):
    y0 = 320 + 30 * i
    if i % 2 == 1:
        box(161, y0, 1062, y0 + 30, BEIGE)
    yc = y0 + 15
    put(167, yc, ind_names[i], ha='left', fontsize=15)
    put(mids[2], yc, ind_units[i], fontsize=15)
    put(mids[3], yc, ind_latest[i], fontsize=15)
    put(mids[4], yc, ind_chg[i], fontsize=15, color='#FF0000' if ind_chg[i].startswith('-') else 'black')
    put(mids[5], yc, ind_pct[i], fontsize=15)
    put(mids[6], yc, ind_freq[i], fontsize=15)
    seg(161, y0, 1062, y0)
start = 0
for name, n in groups:
    y0, y1 = 320 + 30 * start, 320 + 30 * (start + n)
    put(mids[0], (y0 + y1) / 2, name, color=RED, fontsize=15.5, weight='bold')
    seg(25, y1, 1062, y1)
    start += n
seg(25, 320, 1062, 320)
for x in cols[1:-1]:
    seg(x, 259, x, 1010)

# ---------------- comment block ----------------
box(25, 1010, 161, 1442, PINK)
box(161, 1010, 1062, 1442, BEIGE)
seg(161, 1010, 161, 1442)
seg(161, 1238.5, 1062, 1238.5, dotted=False, lw=1.0, color='#222222')
seg(25, 1442, 1062, 1442, dotted=False, lw=1.0, color='#222222')
put(mids[0], 1213, '研判及操作', color=RED, fontsize=15.5, weight='bold')
put(mids[0], 1242, '建议：', color=RED, fontsize=15.5, weight='bold')
for i, s in enumerate(glass_text):
    put(167, 1026 + 28 * i, s, ha='left', fontsize=15.6, weight='bold' if i == 0 else 'normal')
for i, s in enumerate(soda_text):
    put(167, 1286 + 28 * i, s, ha='left', fontsize=15.6, weight='bold' if i == 0 else 'normal')

# ---------------- trading charts ----------------
trade_ticks = np.arange(0, 351, 14)
trade_labels = list(pd.date_range('2022-05-13', periods=26, freq='14D').strftime('%m-%d'))


def trading(px, rows, ylim, yticks, y2lim, y2ticks, title, tpos, upos, zpos, lpos):
    xl, x_last, xr, yt, yb = px
    ax = fig.add_axes([xl / W, 1 - yb / H, (xr - xl) / W, (yb - yt) / H])
    ax2 = ax.twinx()
    ax.set_zorder(ax2.get_zorder() + 1)
    ax.patch.set_visible(False)
    ax2.patch.set_visible(False)
    d = [r[0] for r in rows]
    close = [r[1] for r in rows]
    oi = [r[2] * 1e4 for r in rows]
    ax2.bar(d, oi, width=1.4, color=BAR, linewidth=0)
    ax.plot(d, close, color=DARKRED, lw=2.4, solid_joinstyle='round')
    xmax = 350 * (xr - xl) / (x_last - xl)
    ax.set_xlim(0, xmax)
    ax2.set_xlim(0, xmax)
    ax.set_ylim(*ylim)
    ax2.set_ylim(*y2lim)
    ax.set_yticks(yticks)
    ax.set_yticklabels([str(v) for v in yticks], family=NUM, fontsize=12.5, color=GRAY)
    ax2.set_yticks(y2ticks)
    ax2.set_yticklabels([str(int(v)) for v in y2ticks], family=NUM, fontsize=12.5, color=GRAY)
    ax.tick_params(axis='y', length=0, pad=14)
    ax2.tick_params(axis='y', direction='out', length=3, width=1, pad=10)
    for s in ['top', 'right']:
        ax.spines[s].set_visible(False)
    for s in ['top', 'left', 'bottom']:
        ax2.spines[s].set_visible(False)
    ax.spines['left'].set_linewidth(1.2)
    ax2.spines['right'].set_linewidth(1.2)
    ax.spines['bottom'].set_linewidth(2)
    ax.set_xticks(trade_ticks)
    ax.tick_params(axis='x', direction='in', length=6, width=1.2, labelbottom=False)
    xlabels(ax, trade_ticks, trade_labels, offset=12, size=10.5)
    put(*tpos, title, fontsize=18, weight='bold', color=GRAY)
    put(*upos, '元/吨', fontsize=13, color=GRAY)
    put(*zpos, '张', fontsize=13, color=GRAY)
    handles = [Patch(color=BAR), Line2D([], [], color=DARKRED, lw=3.5)]
    fig.legend(handles, ['持仓量（右轴）', '收盘价'], loc='center', bbox_to_anchor=(lpos[0] / W, 1 - lpos[1] / H),
               ncol=2, frameon=False, fontsize=12.5, labelcolor=GRAY, handlelength=2.2, handleheight=0.7,
               handletextpad=0.3, columnspacing=1.8)


trading((104, 931, 966, 1497, 1695.5), fg_rows, (1300, 1900), list(range(1300, 1901, 100)),
        (0, 1400000), list(range(0, 1400001, 200000)), '玻璃09合约交易数据', (546, 1492), (150, 1509),
        (929, 1506), (550, 1772))
trading((99.4, 930, 966, 1858, 2048.5), sa_rows, (1700, 3200), [1700, 2200, 2700, 3200],
        (0, 1200000), list(range(0, 1200001, 200000)), '纯碱09合约交易数据', (549, 1837), (137, 1860),
        (929, 1864), (550, 2125))

# ---------------- seasonal charts ----------------
season_ticks = np.arange(0, 361, 15)
season_labels = [f'{d.month}/{d.day}' for d in pd.date_range('2021-01-01', periods=25, freq='15D')]


def seasonal(px, ylim, yticks, yfmt, data, widths, title, tpos, lpos, colsp, unit=None, upos=None,
             zero_mid=False, xcolor='black', xlw=2.0, dash20=None, lab_off=14):
    xl, x_end_tick, xr, yt, yb = px
    ax = fig.add_axes([xl / W, 1 - yb / H, (xr - xl) / W, (yb - yt) / H])
    ax.patch.set_visible(False)
    ax.set_xlim(0, 360 * (xr - xl) / (x_end_tick - xl))
    ax.set_ylim(*ylim)
    for s in ['top', 'right']:
        ax.spines[s].set_visible(False)
    ax.spines['left'].set_linewidth(1.3)
    ax.spines['bottom'].set_linewidth(xlw)
    ax.spines['bottom'].set_color(xcolor)
    if zero_mid:
        ax.spines['bottom'].set_position(('data', 0))
    ax.set_xticks(season_ticks)
    ax.tick_params(axis='x', direction='inout' if zero_mid else 'out', length=9 if zero_mid else 5,
                   width=1.3, color=xcolor, labelbottom=False)
    xlabels(ax, season_ticks, season_labels, offset=lab_off)
    ax.set_yticks(yticks)
    ax.set_yticklabels([yfmt(v) for v in yticks], family=NUM, fontsize=13, color=GRAY)
    ax.tick_params(axis='y', direction='out', length=3, width=1.2, pad=12)
    handles = []
    for k, series in enumerate(data):
        d = [p[0] for p in series]
        v = [p[1] for p in series]
        style = '-' if (k > 0 or dash20 is None) else (0, dash20)
        ln, = ax.plot(d, v, color=YEAR_COLORS[k], lw=widths[k], ls=style, zorder=2 + k,
                      solid_joinstyle='round', solid_capstyle='round')
        handles.append(ln)
    put(*tpos, title, fontsize=18, weight='bold', color=GRAY)
    if unit:
        put(*upos, unit, fontsize=14, color=GRAY)
    fig.legend(handles, YEARS, loc='center', bbox_to_anchor=(lpos[0] / W, 1 - lpos[1] / H), ncol=4,
               frameon=False, prop={'family': NUM, 'size': 14.5}, labelcolor=GRAY, handlelength=2.2,
               handletextpad=0.3, columnspacing=colsp)
    return ax


f2 = lambda v: f'{v:,.2f}'
f0 = lambda v: f'{v:,.0f}'

seasonal((124, 958, 966, 2186, 2335), (-400, 800), [-400, 100, 600], f2, [gb20, gb21, gb22, gb23],
         [2.0, 1.5, 1.8, 3.0], '玻璃09合约基差', (566, 2169), (519, 2415.5), 1.55,
         zero_mid=True, xlw=2.5, dash20=(4, 1.5, 1, 1.5), lab_off=16)
seasonal((127, 954, 966, 2521, 2658), (-2000, 2000), [-2000, -1000, 0, 1000, 2000], f2,
         [sb20, sb21, sb22, sb23], [2.3, 2.3, 2.3, 2.6], '纯碱09合约基差', (560, 2478.5), (516, 2745.7), 0.3,
         zero_mid=True, xcolor='#7F7F7F', xlw=3, lab_off=13)
seasonal((107.7, 935, 945, 2786.8, 2991.7), (0, 3500), list(range(0, 3501, 500)), f0,
         [gp20, gp21, gp22, gp23], [2.6, 2.6, 2.6, 3.0], '玻璃全国主流市场价', (569, 2801.7), (506, 3069.5), 2.6,
         unit='元/吨', upos=(163, 2812.5), lab_off=13)
seasonal((103, 984, 997.5, 3129.5, 3277), (0, 10000), [0, 5000, 10000], f0, [gi20, gi21, gi22, gi23],
         [2.5, 2.5, 2.5, 2.7], '玻璃全国厂库库存', (565, 3112.5), (528, 3372.8), 0.7,
         unit='万重量箱', upos=(179, 3135), lab_off=15)
seasonal((99.4, 981.5, 990, 3432.8, 3638), (-500, 2000), list(range(-500, 2001, 500)), f0,
         [gc20, gc21, gc22, gc23], [2.5, 2.5, 2.5, 2.8], '玻璃：以煤炭为燃料利润', (580, 3424), (528, 3722.7), 0.7,
         unit='元/吨', upos=(150, 3440), zero_mid=True, lab_off=14)
seasonal((97.3, 963, 977, 3780, 3958.5), (0, 4000), list(range(0, 4001, 1000)), f0,
         [hs20, hs21, hs22, hs23], [3.2, 1.5, 1.5, 3.3], '重碱主流市场均价', (570, 3775.5), (521, 4031.7), 1.55,
         unit='元/吨', upos=(195, 3789), dash20=(3, 2.5, 0.8, 2.5), lab_off=14)
seasonal((97.3, 982, 995.5, 4094, 4272.7), (0, 4000), list(range(0, 4001, 1000)), f0,
         [ls20, ls21, ls22, ls23], [3.2, 1.5, 1.5, 3.3], '轻碱主流市场均价', (553, 4088.8), (554, 4343), 1.45,
         unit='元/吨', upos=(178, 4101), dash20=(3, 2.5, 0.8, 2.5), lab_off=14)
seasonal((90.4, 968, 980, 4390, 4574.5), (0, 200), list(range(0, 201, 50)), f0, [si20, si21, si22, si23],
         [2.7, 2.7, 2.7, 2.7], '纯碱全国库存', (549, 4386), (536, 4661.7), 1.85,
         unit='万吨', upos=(174, 4395), lab_off=15)
seasonal((87, 970, 981.5, 4728.8, 4902.4), (-500, 2000), list(range(-500, 2001, 500)), f0,
         [ap20, ap21, ap22, ap23], [2.7, 2.7, 2.7, 2.7], '氨碱法重碱利润', (570, 4707), (537, 4978), 2.35,
         unit='元/吨', upos=(160, 4723), zero_mid=True, lab_off=15)
seasonal((83.4, 966, 977, 5067, 5215), (0, 3000), [0, 1000, 2000, 3000], f0, [jp20, jp21, jp22, jp23],
         [2.7, 2.7, 2.7, 2.7], '联碱法重碱利润', (574, 5048), (548, 5289), 3.6,
         unit='元/吨', upos=(169, 5066), lab_off=13)

# ---------------- disclaimer ----------------
box(25, 5313, 1062, 5738, BEIGE)
put(543.5, 5353, '免责声明', fontsize=16, weight='bold', color=DARKRED)
for i, s in enumerate(disclaimer):
    put(31, 5379 + 26 * i, s, ha='left', fontsize=14.3, color='#E2001A')
put(31, 5612, reminder, ha='left', fontsize=14.3, color='#B8312F')
for (x, y), s in zip([(31, 5642), (42, 5667), (139, 5693), (480, 5719)], contacts):
    put(x, y, s, ha='left', fontsize=14, color='black')

fig.savefig('out.png', dpi=100, facecolor=fig.get_facecolor())
